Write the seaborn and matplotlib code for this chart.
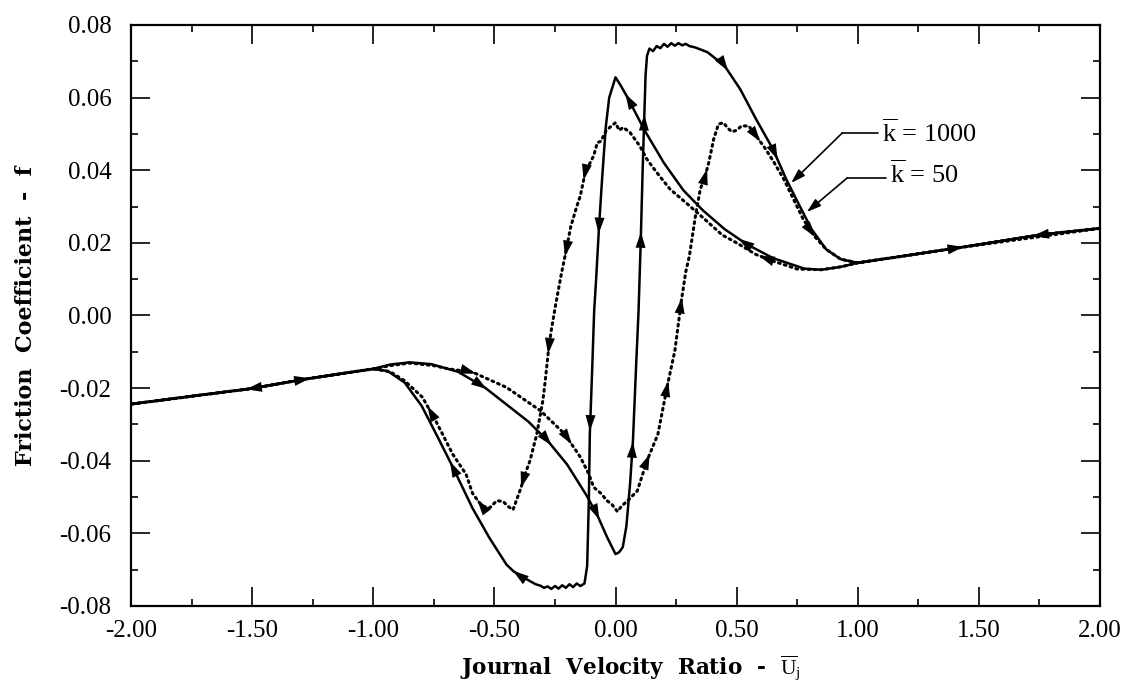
import numpy as np
import pandas as pd
import matplotlib
matplotlib.use("Agg")
import matplotlib.pyplot as plt
import seaborn as sns
from matplotlib.ticker import MultipleLocator, FormatStrFormatter

# ---------------- data ----------------
# k = 1000 (solid), branch with increasing journal velocity ratio
s_inc_u = [-2.00, -1.75, -1.50, -1.29, -1.00, -0.93, -0.85, -0.76, -0.65, -0.54,
           -0.45, -0.36, -0.28, -0.20, -0.12, -0.075, -0.035, 0.00, 0.015, 0.030,
           0.045, 0.060, 0.072, 0.085, 0.095, 0.104, 0.112, 0.118, 0.124, 0.130,
           0.140, 0.155, 0.170, 0.185, 0.200, 0.215, 0.230, 0.245, 0.260, 0.275,
           0.290, 0.305, 0.33, 0.38, 0.45, 0.515, 0.58, 0.65, 0.705, 0.76,
           0.81, 0.87, 0.93, 1.00, 1.40, 1.76, 2.00]
s_inc_f = [-0.0244, -0.0222, -0.0201, -0.0176, -0.0147, -0.0135, -0.0129, -0.0134, -0.0155, -0.0198,
           -0.0245, -0.0292, -0.0345, -0.0410, -0.0495, -0.0550, -0.0610, -0.0657, -0.0652, -0.0638,
           -0.0580, -0.0465, -0.0345, -0.0140, 0.0010, 0.0200, 0.0400, 0.0530, 0.0660, 0.0715,
           0.0735, 0.0728, 0.0742, 0.0736, 0.0748, 0.0740, 0.0750, 0.0743, 0.0750, 0.0744,
           0.0748, 0.0742, 0.0738, 0.0725, 0.0688, 0.0623, 0.0541, 0.0458, 0.0375, 0.0302,
           0.0237, 0.0182, 0.0155, 0.0145, 0.0185, 0.0223, 0.0240]

# k = 1000 (solid), branch with decreasing journal velocity ratio
s_dec_u = [2.00, 1.76, 1.40, 1.00, 0.93, 0.85, 0.78, 0.65, 0.54, 0.45,
           0.36, 0.28, 0.20, 0.12, 0.05, 0.02, 0.00, -0.012, -0.026, -0.040,
           -0.055, -0.068, -0.080, -0.088, -0.096, -0.106, -0.110, -0.117, -0.128, -0.145,
           -0.160, -0.175, -0.190, -0.205, -0.220, -0.235, -0.250, -0.265, -0.280, -0.295,
           -0.31, -0.33, -0.37, -0.42, -0.45, -0.52, -0.59, -0.675, -0.73, -0.80,
           -0.87, -0.94, -1.00, -1.29, -1.50, -1.75, -2.00]
s_dec_f = [0.0240, 0.0223, 0.0185, 0.0145, 0.0134, 0.0126, 0.0129, 0.0158, 0.0197, 0.0238,
           0.0290, 0.0345, 0.0420, 0.0510, 0.0600, 0.0635, 0.0656, 0.0630, 0.0600, 0.0520,
           0.0380, 0.0244, 0.0100, 0.0014, -0.0143, -0.0327, -0.0510, -0.0690, -0.0738, -0.0745,
           -0.0738, -0.0748, -0.0740, -0.0750, -0.0743, -0.0752, -0.0745, -0.0753, -0.0746, -0.0750,
           -0.0744, -0.0740, -0.0725, -0.0705, -0.0686, -0.0613, -0.0531, -0.0413, -0.0340, -0.0249,
           -0.0185, -0.0153, -0.0147, -0.0176, -0.0201, -0.0222, -0.0244]

# k = 50 (dotted), increasing branch
d_inc_u = [-2.00, -1.50, -1.29, -1.00, -0.93, -0.85, -0.75, -0.69, -0.59, -0.45,
           -0.31, -0.21, -0.145, -0.11, -0.09, -0.06, -0.035, -0.015, 0.008, 0.025,
           0.05, 0.09, 0.13, 0.175, 0.215, 0.245, 0.272, 0.29, 0.305, 0.33,
           0.35, 0.37, 0.385, 0.405, 0.425, 0.445, 0.465, 0.48, 0.50, 0.52,
           0.55, 0.58, 0.615, 0.655, 0.695, 0.735, 0.775, 0.82, 0.87, 0.93,
           1.00, 1.40, 2.00]
d_inc_f = [-0.0244, -0.0201, -0.0176, -0.0147, -0.0138, -0.0131, -0.0138, -0.0147, -0.0156, -0.0198,
           -0.0262, -0.0326, -0.0390, -0.0437, -0.0473, -0.0490, -0.0510, -0.0520, -0.0540, -0.0525,
           -0.0510, -0.0483, -0.0400, -0.0327, -0.0190, -0.0097, 0.0041, 0.0120, 0.0164, 0.0274,
           0.0348, 0.0384, 0.0421, 0.0485, 0.0527, 0.0531, 0.0515, 0.0506, 0.0510, 0.0522,
           0.0522, 0.0495, 0.0463, 0.0421, 0.0375, 0.0320, 0.0265, 0.0219, 0.0182, 0.0155,
           0.0145, 0.0185, 0.0240]

# k = 50 (dotted), decreasing branch
d_dec_u = [2.00, 1.76, 1.40, 1.00, 0.93, 0.85, 0.75, 0.65, 0.58, 0.50,
           0.44, 0.36, 0.29, 0.225, 0.17, 0.13, 0.10, 0.06, 0.032, 0.015,
           0.0, -0.02, -0.04, -0.06, -0.075, -0.09, -0.105, -0.125, -0.145, -0.16,
           -0.185, -0.205, -0.226, -0.247, -0.265, -0.277, -0.29, -0.30, -0.325, -0.353,
           -0.375, -0.39, -0.423, -0.445, -0.464, -0.49, -0.52, -0.55, -0.568, -0.59,
           -0.617, -0.672, -0.742, -0.797, -0.87, -0.93, -1.00, -1.29, -1.50, -2.00]
d_dec_f = [0.0240, 0.0223, 0.0185, 0.0145, 0.0134, 0.0126, 0.0128, 0.0150, 0.0168, 0.0200,
           0.0222, 0.0270, 0.0311, 0.0348, 0.0394, 0.0430, 0.0467, 0.0504, 0.0518, 0.0510,
           0.0531, 0.0520, 0.0508, 0.0480, 0.0476, 0.0440, 0.0420, 0.0394, 0.0330, 0.0300,
           0.0244, 0.0175, 0.0106, 0.0030, -0.0040, -0.0097, -0.0180, -0.0235, -0.0327, -0.0400,
           -0.0440, -0.0474, -0.0535, -0.0525, -0.0512, -0.0510, -0.0530, -0.0525, -0.0510, -0.0490,
           -0.0437, -0.0382, -0.0290, -0.0225, -0.0180, -0.0155, -0.0147, -0.0176, -0.0201, -0.0244]

x_ticks = [-2.0, -1.5, -1.0, -0.5, 0.0, 0.5, 1.0, 1.5, 2.0]
y_ticks = [-0.08, -0.06, -0.04, -0.02, 0.00, 0.02, 0.04, 0.06, 0.08]
label_1000 = r"$\overline{\mathrm{k}}$ = 1000"
label_50 = r"$\overline{\mathrm{k}}$ = 50"
x_label = r"Journal  Velocity  Ratio  -  $\overline{\mathrm{U}}_{\mathrm{j}}$"
y_label = "Friction  Coefficient  -  f"

# direction arrows: (branch, approximate location along the curve)
arrow_spots = {
    "s_inc": [(-1.29, -0.0176), (-0.54, -0.0198), (-0.27, -0.035), (-0.07, -0.0555),
              (0.07, -0.036), (0.10, 0.021), (0.118, 0.054), (0.46, 0.068), (0.67, 0.044),
              (1.40, 0.0185)],
    "s_dec": [(1.76, 0.0223), (0.52, 0.021), (0.04, 0.0605), (-0.068, 0.024),
              (-0.108, -0.030), (-0.42, -0.0705), (-0.68, -0.041), (-1.50, -0.0201)],
    "d_inc": [(-0.59, -0.0156), (-0.19, -0.035), (0.14, -0.039), (0.215, -0.019),
              (0.272, 0.004), (0.375, 0.040), (0.59, 0.048), (0.82, 0.022)],
    "d_dec": [(0.60, 0.0165), (-0.13, 0.038), (-0.205, 0.017), (-0.277, -0.0097),
              (-0.39, -0.047), (-0.57, -0.051), (-0.78, -0.026)],
}

# ---------------- figure ----------------
sns.set_theme(style="ticks")
plt.rcParams["font.family"] = ["Liberation Serif", "DejaVu Serif"]
plt.rcParams["mathtext.fontset"] = "custom"
plt.rcParams["mathtext.rm"] = "Liberation Serif"
plt.rcParams["mathtext.it"] = "Liberation Serif:italic"
plt.rcParams["mathtext.bf"] = "Liberation Serif:bold"
plt.rcParams["axes.unicode_minus"] = False
for k in ["text.color", "axes.labelcolor", "xtick.color", "ytick.color", "axes.edgecolor"]:
    plt.rcParams[k] = "black"

fig = plt.figure(figsize=(11.28, 6.87), dpi=100)
ax = fig.add_axes([131 / 1128, 1 - 606 / 687, 969 / 1128, 581 / 687])

solid = pd.concat([
    pd.DataFrame({"U": s_inc_u, "f": s_inc_f, "branch": "inc"}),
    pd.DataFrame({"U": s_dec_u, "f": s_dec_f, "branch": "dec"}),
])
dotted = pd.concat([
    pd.DataFrame({"U": d_inc_u, "f": d_inc_f, "branch": "inc"}),
    pd.DataFrame({"U": d_dec_u, "f": d_dec_f, "branch": "dec"}),
])

sns.lineplot(data=dotted, x="U", y="f", units="branch", estimator=None, sort=False,
             color="black", lw=2.2, linestyle=(0, (0.6, 1.4)), dash_capstyle="round",
             legend=False, ax=ax)
sns.lineplot(data=solid, x="U", y="f", units="branch", estimator=None, sort=False,
             color="black", lw=1.8, legend=False, ax=ax)

branches = {"s_inc": (s_inc_u, s_inc_f), "s_dec": (s_dec_u, s_dec_f),
            "d_inc": (d_inc_u, d_inc_f), "d_dec": (d_dec_u, d_dec_f)}

def add_arrow(xs, ys, near):
    xs = np.asarray(xs, float)
    ys = np.asarray(ys, float)
    t = np.arange(len(xs))
    tt = np.linspace(0, len(xs) - 1, (len(xs) - 1) * 40 + 1)
    dx = np.interp(tt, t, xs)
    dy = np.interp(tt, t, ys)
    d = ((dx - near[0]) * 969 / 4.0) ** 2 + ((dy - near[1]) * 581 / 0.16) ** 2
    j = int(np.argmin(d))
    j0 = max(j - 4, 0)
    j1 = min(j + 4, len(tt) - 1)
    ax.annotate("", xy=(dx[j1], dy[j1]), xytext=(dx[j0], dy[j0]),
                arrowprops=dict(arrowstyle="-|>,head_length=0.95,head_width=0.3",
                                color="black", lw=0, shrinkA=0, shrinkB=0))

for key, spots in arrow_spots.items():
    bx, by = branches[key]
    for sp in spots:
        add_arrow(bx, by, sp)

# labels for the two curves with leader arrows
ax.text(1.10, 0.0502, label_1000, fontsize=19, ha="left", va="center")
ax.text(1.135, 0.0390, label_50, fontsize=19, ha="left", va="center")
ax.plot([0.935, 1.085], [0.0502, 0.0502], color="black", lw=1.2)
ax.plot([0.955, 1.115], [0.0378, 0.0378], color="black", lw=1.2)
ax.annotate("", xy=(0.725, 0.0365), xytext=(0.935, 0.0502),
            arrowprops=dict(arrowstyle="-|>,head_length=0.7,head_width=0.22",
                            color="black", lw=1.2, shrinkA=0, shrinkB=0))
ax.annotate("", xy=(0.79, 0.0285), xytext=(0.955, 0.0378),
            arrowprops=dict(arrowstyle="-|>,head_length=0.7,head_width=0.22",
                            color="black", lw=1.2, shrinkA=0, shrinkB=0))

# axes styling
ax.set_xlim(-2.0, 2.0)
ax.set_ylim(-0.08, 0.08)
ax.set_xticks(x_ticks)
ax.set_yticks(y_ticks)
ax.xaxis.set_minor_locator(MultipleLocator(0.25))
ax.yaxis.set_minor_locator(MultipleLocator(0.01))
ax.xaxis.set_major_formatter(FormatStrFormatter("%.2f"))
ax.yaxis.set_major_formatter(FormatStrFormatter("%.2f"))
ax.tick_params(which="both", direction="in", top=True, right=True, labelsize=18)
ax.tick_params(which="major", length=14, width=1.2)
ax.tick_params(which="minor", length=5, width=1.2)
ax.tick_params(axis="x", which="major", pad=10)
ax.tick_params(axis="y", which="major", pad=14)
for sp in ax.spines.values():
    sp.set_linewidth(1.6)
    sp.set_color("black")
    sp.set_visible(True)

ax.set_xlabel(x_label, fontsize=15.5, fontweight="bold", family=["DejaVu Serif"])
ax.set_ylabel(y_label, fontsize=16, fontweight="bold", family=["DejaVu Serif"])
ax.xaxis.set_label_coords(0.515, -0.106)
ax.xaxis.label.set_va("center")
ax.yaxis.set_label_coords(-0.108, 0.5)
ax.yaxis.label.set_va("center")

fig.savefig("out.png", dpi=100)
